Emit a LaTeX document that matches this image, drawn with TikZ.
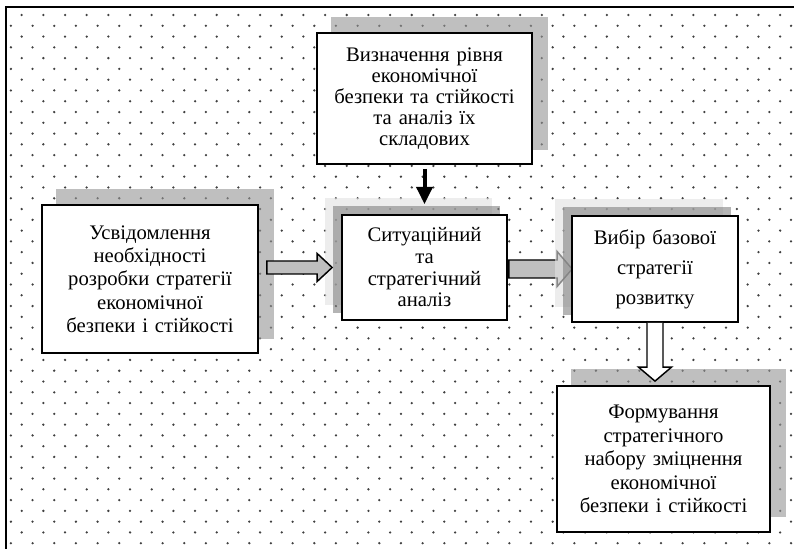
\documentclass[tikz,border=0pt]{standalone}
\usepackage{fontspec}
\setmainfont{Liberation Serif}
\usetikzlibrary{positioning, backgrounds, arrows.meta, calc}

\begin{document}
\begin{tikzpicture}[x=0.75pt, y=-0.75pt,
  box/.style={draw, line width=1.3pt, fill=white, align=center, inner sep=0pt},
  boxshade/.style={fill=gray!83, fill opacity=0.6},
  darkshade/.style={fill=gray!98, fill opacity=0.6},
  lightshade/.style={fill=gray!23, fill opacity=0.6},
  barrow/.style={draw, line width=1.1pt, fill=gray!50, line join=miter},
  warrow/.style={draw, line width=1.1pt, fill=white, line join=miter}]
\useasboundingbox (0,0) rectangle (794,549);
\node[box, minimum width=162pt, minimum height=111pt, text width=155pt, font=\fontsize{15.5}{17.5}\selectfont] (A) at (150,279) {Усвідомлення\\ необхідності\\ розробки стратегії\\ економічної\\ безпеки і стійкості};
\node[box, minimum width=161.25pt, minimum height=98.25pt, text width=155pt, font=\fontsize{15.5}{15.75}\selectfont] (B) at (424.5,98.5) {Визначення рівня\\ економічної\\ безпеки та стійкості\\ та аналіз їх\\ складових};
\node[box, minimum width=123.75pt, minimum height=78.75pt, text width=118pt, font=\fontsize{15.5}{16.25}\selectfont] (C) at (424.5,267.5) {Ситуаційний\\ та\\ стратегічний\\ аналіз};
\node[box, minimum width=124.5pt, minimum height=79.5pt, text width=118pt, font=\fontsize{15.5}{22.5}\selectfont] (D) at (655,269) {Вибір базової\\ стратегії\\ розвитку};
\node[box, minimum width=159.75pt, minimum height=109.5pt, text width=153pt, font=\fontsize{15.5}{17.6}\selectfont] (E) at (663.5,459) {Формування\\ стратегічного\\ набору зміцнення\\ економічної\\ безпеки і стійкості};
\coordinate (ac) at (A.east |- C.west);
\coordinate (cd) at (C.east |- D.west);
\coordinate (de) at (D.south |- E.north);
\draw[barrow] ($(ac)+(8,-6.5)$) -- ($(C.west)+(-24,-6.5)$) -- ($(C.west)+(-24,-14)$) -- ($(C.west)+(-9,0)$) -- ($(C.west)+(-24,14)$) -- ($(C.west)+(-24,6.5)$) -- ($(ac)+(8,6.5)$) -- cycle;
\draw[warrow] ($(D.south)+(-8,0)$) -- ($(de)+(-8,-18)$) -- ($(de)+(-16.5,-18)$) -- ($(de)+(0,-4)$) -- ($(de)+(16.5,-18)$) -- ($(de)+(8,-18)$) -- ($(D.south)+(8,0)$);
\draw[line width=3pt, -{Triangle[width=12pt,length=13pt]}, shorten <=3pt, shorten >=7.5pt] (B.south) -- (C.north);
\draw[line width=1.5pt] (794,7) -| (6,549);
\begin{scope}[on background layer]
\fill[white] (0,0) rectangle (794,549);
\foreach \j in {0,...,50} \foreach \i in {0,...,36}
  \fill[black!75] ({21.67*\i+21.7-10.8*mod(\j,2)},{15+10.78*\j}) circle (0.95pt);
\fill[boxshade] ([shift={(15,-15)}]A.south west) rectangle ([shift={(15,-15)}]A.north east);
\fill[boxshade] ([shift={(15,-15)}]B.south west) rectangle ([shift={(15,-15)}]B.north east);
\fill[boxshade] ([shift={(15,-16)}]E.south west) rectangle ([shift={(15,-16)}]E.north east);
\fill[lightshade] ([shift={(-16,-16)}]C.south west) rectangle ([shift={(-16,-16)}]C.north east);
\fill[darkshade] ([shift={(-8,-8)}]C.south west) rectangle ([shift={(-8,-8)}]C.north east);
\draw[barrow] ($(cd)+(1,-9)$) -- ($(D.west)+(-14,-9)$) -- ($(D.west)+(-14,-17.5)$) -- ($(D.west)+(1,0)$) -- ($(D.west)+(-14,17.5)$) -- ($(D.west)+(-14,9)$) -- ($(cd)+(1,9)$) -- cycle;
\fill[lightshade] ([shift={(-16,-16)}]D.south west) rectangle ([shift={(-16,-16)}]D.north east);
\fill[darkshade] ([shift={(-8,-8)}]D.south west) rectangle ([shift={(-8,-8)}]D.north east);
\end{scope}
\end{tikzpicture}
\end{document}
